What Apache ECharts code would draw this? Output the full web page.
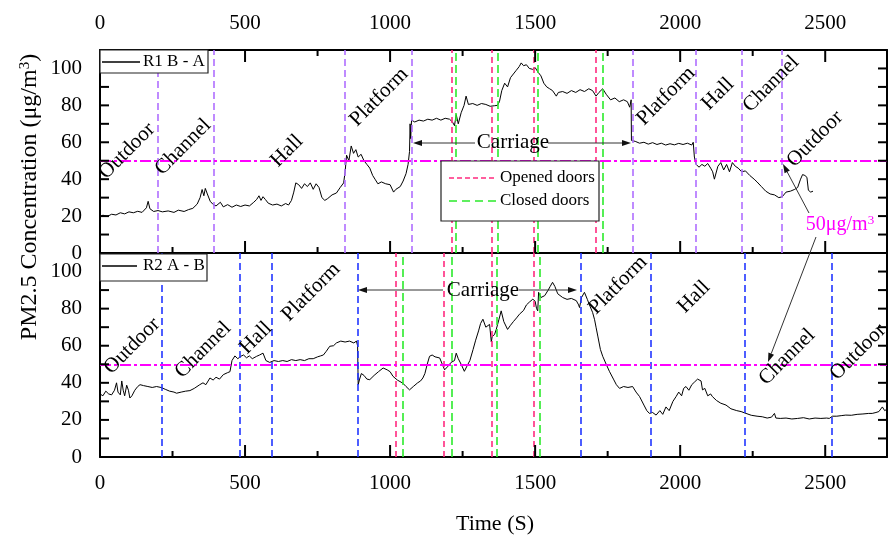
<!DOCTYPE html>
<html>
<head>
<meta charset="utf-8">
<script src="https://cdn.jsdelivr.net/npm/echarts@6/dist/echarts.min.js"></script>
<style>html,body{margin:0;padding:0;background:#fff}#c{width:890px;height:537px}</style>
</head>
<body>
<div id="c"></div>
<script>
// ---------- data ----------
const xMax = 2713;
const yMax = 110;
const limitValue = 50;
const xMajorTicks = [0, 500, 1000, 1500, 2000, 2500];
const xMinorTicks = [250, 750, 1250, 1750, 2250];
const yTicks = [0, 10, 20, 30, 40, 50, 60, 70, 80, 90, 100];

const r1Series = [
 [0,19.5],[10,20.5],[25,19.8],[40,21],[55,20.6],[70,21.8],[85,21.2],[100,22.3],[115,21.8],[130,22.6],[145,22],[160,24.5],[166,28],[172,24],[185,22.5],[200,23],
 [215,22.3],[235,22.8],[255,22],[270,23.2],[290,22.5],[305,23.5],[320,24.2],[335,26.5],[345,30],[352,34.4],[358,31],[363,35],[370,32],[380,28],[390,26.3],
 [400,25.5],[415,27.5],[425,25],[440,26.2],[455,24.8],[470,26],[485,25.2],[500,26],[515,25.5],[530,27.5],[540,29],[548,31],[555,28.5],[562,30.5],[570,29],[580,27],[595,26],[610,26.5],[625,25.5],[640,26.8],[650,26],[660,28.5],[668,33],[675,38],[685,37],[695,35],[705,37.5],[715,36],[725,38],[735,34.5],[745,37.5],[755,35.5],[765,30],[775,28.5],[785,29.5],[800,31.5],[815,32.5],[828,35.5],[840,38],[845,44],
 [850,53],[858,50],[866,58],[874,54],[882,56],[890,52],[900,53.5],[910,50],[920,48],[930,46],[940,42],[948,40],[958,37.5],[970,38.5],[985,37.5],[1000,37],[1012,33],[1020,34.5],[1035,36],[1045,39],[1055,43],[1062,48],[1067,55],[1069,70],[1071,62],[1074,72],
 [1085,71],[1100,72],[1115,71.5],[1130,72.5],[1145,72],[1160,73],[1175,72],[1190,73],[1205,72.5],[1215,71],[1222,69],[1228,75],[1235,70],[1245,76],[1255,80],[1262,85],[1270,80.5],[1285,81],[1300,80],[1315,81],[1330,80.5],[1345,79.5],[1360,79.8],[1370,80],[1377,82],[1385,88],[1395,92],[1405,90],[1415,95],[1425,97],[1435,99],[1445,101],[1452,103],[1460,101.5],[1470,102],[1480,100],[1492,99.5],[1500,100.5],[1510,98],[1520,96],[1530,92],[1540,90],[1550,89],[1560,88],[1573,85],[1580,87],[1595,87.5],[1610,86.5],[1625,88],[1640,87],[1655,88.5],[1670,87.5],[1685,89],[1698,88],[1710,85],[1720,87],[1733,89],[1745,86],[1760,83],[1775,84],[1790,82],[1805,83],[1818,82],[1826,79],[1831,83],[1832,61],
 [1845,60.5],[1860,59.5],[1875,60],[1890,59],[1905,59.8],[1920,58.8],[1935,59.5],[1950,58.5],[1965,59.2],[1980,58.6],[1995,59.4],[2010,58.8],[2025,59.5],[2040,58.5],[2045,60],[2049,52],
 [2055,48],[2065,46.5],[2075,48],[2085,47],[2095,48.5],[2105,46],[2112,44],[2118,40],[2124,41],[2130,47],[2140,49],[2150,45],[2160,48],[2170,44],[2180,49],[2190,47],[2200,46],[2212,44],
 [2225,44.5],[2240,42],[2255,40],[2265,38.5],[2280,36],[2295,33.5],[2310,32],[2325,31.5],[2340,30],[2352,30.5],
 [2365,33],[2380,33.5],[2395,34.5],[2405,35.5],[2415,40],[2422,42.5],[2430,42],[2437,41],[2442,34],[2450,33],[2458,33.5]
];

const r2Series = [
 [0,34],[10,33],[20,35.5],[30,34],[40,33.5],[50,36],[57,40],[62,35],[70,33.5],[75,41],[80,36],[85,33],[92,38.7],[98,36],[103,31.8],[110,33],[120,36],[130,38],[138,39],[150,38.5],[165,38],[180,37.5],[195,38],[210,37.5],[225,36.5],[240,35.5],[255,35],[264,34.4],[280,35],[295,35.5],[310,35.8],[325,37],[344,39],[355,40],[365,39],[379,42.6],[390,41.5],[400,43],[412,42],[425,44.4],[440,45.5],[448,46],
 [455,52],[465,54.5],[475,53],[485,54.3],[495,55],[505,53.5],[515,54.5],[525,53],[540,54.3],[550,55],[562,56],[572,52],[585,51],[600,52],[615,51.5],[630,52],[645,51.5],[660,52.5],[675,52],[690,52.5],[705,52],[720,53],[735,53],[750,54],[760,54.5],[770,55],[780,57],[792,59.7],[805,60],[815,61.5],[830,62.5],[845,62],[860,62.5],[875,61.5],[884,62.5],[888,60],
 [890,39],[895,42],[901,45],[910,44],[920,42],[930,41.7],[945,44],[960,46],[976,48],[990,47],[1000,46],[1010,43.5],[1025,41.5],[1044,39.8],[1055,38],[1067,36.2],[1080,38],[1095,40],[1105,41],[1113,42.6],[1120,45],[1128,50],[1136,54.3],[1145,55],[1155,54],[1171,53.4],[1180,50],[1188,47],[1200,49],[1210,51],[1216,50.6],[1222,52],[1228,56],[1235,53],[1245,50],[1256,46.2],[1265,49],[1275,52],[1286,57.9],[1295,63],[1305,68],[1312,72],[1320,74.3],[1330,70],[1343,71.5],[1349,62],[1352,65],[1360,66],[1366,68.8],[1375,74],[1383,78.8],[1392,73],[1405,68.8],[1415,71],[1425,73],[1436,75],[1446,77],[1460,79],[1470,82],[1480,83.5],[1492,85.1],[1500,84],[1505,80],[1509,78.8],[1512,88.8],[1520,86],[1533,87],[1545,90],[1552,92],[1560,94.2],[1568,92],[1578,88],[1595,86],[1610,85],[1625,85.5],[1642,84.3],[1650,82],[1653,80.6],
 [1660,86],[1670,88.8],[1680,85],[1690,81],[1698,78],[1705,74],[1710,70],[1716,65.2],[1725,58],[1733,54.3],[1745,50],[1756,46.2],[1770,42],[1780,39],[1791,37],[1805,38],[1820,37.5],[1836,38],[1848,35],[1860,32.6],[1875,28],[1885,25],[1894,23.5],
 [1905,24],[1917,22.6],[1930,25],[1940,23],[1951,27],[1962,25],[1975,30],[1986,32.6],[1995,35],[2005,33],[2012,37],[2020,38],[2030,36],[2040,39],[2050,40.5],[2060,42],[2066,42.6],[2072,41],[2077,36.2],[2085,37],[2095,33],[2105,34],[2111,32.6],[2125,30.5],[2140,29],[2158,28],[2175,26],[2195,25],[2210,24.5],
 [2227,23.5],[2245,22.5],[2265,22],[2283,21.7],[2300,21],[2315,21.5],[2325,23.5],[2330,21],[2345,20.8],[2365,21],[2385,20.5],[2405,20.8],[2425,21.2],[2445,20.5],[2465,21],[2485,20.8],[2505,21],[2514,20.8],
 [2525,22],[2540,22],[2555,22.3],[2571,22.6],[2590,22.5],[2610,23],[2630,23.2],[2650,23.5],[2662,23.5],[2675,24],[2685,24.5],[2697,27],[2705,25],[2710,25.5]
];

const r1StageLines = [199, 393, 844, 1073, 1836, 2052, 2212, 2350];
const r1OpenedDoors = [1211, 1349, 1494, 1710];
const r1ClosedDoors = [1228, 1372, 1509, 1733];
const r2StageLines = [212, 482, 591, 889, 1656, 1897, 2223, 2522];
const r2OpenedDoors = [1019, 1185, 1349, 1494];
const r2ClosedDoors = [1044, 1214, 1366, 1515];

// ---------- styles ----------
const FONT = "'Liberation Serif', 'Times New Roman', serif";
const C_PURPLE = '#B06EFF', C_RED = '#FF2A7F', C_GREEN = '#2BEA2B', C_BLUE = '#2236FF', C_MAG = '#FF00FF';

const chart = echarts.init(document.getElementById('c'), null, {renderer: 'canvas'});

function xAx(grid, pos, labels, line) {
  return {
    type: 'value', gridIndex: grid, position: pos, min: 0, max: xMax, interval: 500,
    axisLine: {show: line, onZero: false, lineStyle: {color: '#000', width: 2}},
    axisTick: {show: false},
    axisLabel: {show: labels, margin: 16, color: '#000', fontFamily: FONT, fontSize: 21,
      formatter: v => (v % 500 === 0 && v <= 2500) ? String(v) : ''},
    splitLine: {show: false}
  };
}
function yAx(grid, pos, labels) {
  return {
    type: 'value', gridIndex: grid, position: pos, min: 0, max: yMax, interval: 10,
    axisLine: {show: true, onZero: false, lineStyle: {color: '#000', width: 2}},
    axisTick: {show: false},
    axisLabel: {show: labels, margin: 18, color: '#000', fontFamily: FONT, fontSize: 21,
      formatter: v => (v % 20 === 0 && v <= 100) ? String(v) : ''},
    splitLine: {show: false}
  };
}

function vLines(vals, color, dash) {
  return vals.map(v => ({xAxis: v, lineStyle: {color: color, type: dash, width: 1.6}}));
}
function markLineFor(stages, stageColor, opened, closed) {
  return {
    silent: true, symbol: 'none', label: {show: false},
    data: [].concat(
      vLines(stages, stageColor, [7, 4]),
      vLines(opened, C_RED, [6, 4]),
      vLines(closed, C_GREEN, [8, 4]),
      [{yAxis: limitValue, lineStyle: {color: C_MAG, type: [11, 3, 3, 3], width: 2}}]
    )
  };
}

chart.setOption({
  animation: false,
  backgroundColor: '#fff',
  grid: [
    {left: 100, top: 50, width: 788, height: 203},
    {left: 100, top: 253, width: 788, height: 204}
  ],
  xAxis: [
    xAx(0, 'top', true, true),
    xAx(0, 'bottom', false, true),
    xAx(1, 'top', false, true),
    xAx(1, 'bottom', true, true)
  ],
  yAxis: [
    yAx(0, 'left', true), yAx(0, 'right', false),
    yAx(1, 'left', true), yAx(1, 'right', false)
  ],
  series: [
    {name: 'R1 B - A', type: 'line', xAxisIndex: 0, yAxisIndex: 0, data: r1Series, showSymbol: false,
     lineStyle: {color: '#000', width: 1},
     markLine: markLineFor(r1StageLines, C_PURPLE, r1OpenedDoors, r1ClosedDoors)},
    {name: 'R2 A - B', type: 'line', xAxisIndex: 3, yAxisIndex: 2, data: r2Series, showSymbol: false,
     lineStyle: {color: '#000', width: 1},
     markLine: markLineFor(r2StageLines, C_BLUE, r2OpenedDoors, r2ClosedDoors)}
  ]
});

// ---------- annotation helpers ----------
function rotText(txt, x, y, rotDeg, size, color, rich) {
  const st = {text: txt, fill: color || '#000', font: size + 'px ' + FONT, align: 'center', verticalAlign: 'middle'};
  if (rich) st.rich = rich;
  return {type: 'text', x: x, y: y, rotation: rotDeg * Math.PI / 180, z: 100, style: st};
}
function arrow(x1, y1, x2, y2) {
  const a = Math.atan2(y2 - y1, x2 - x1), L = 9, W = 3;
  const bx = x2 - L * Math.cos(a), by = y2 - L * Math.sin(a);
  const px = -Math.sin(a) * W, py = Math.cos(a) * W;
  return [
    {type: 'line', z: 100, shape: {x1: x1, y1: y1, x2: bx, y2: by}, style: {stroke: '#333', lineWidth: 1}},
    {type: 'polygon', z: 100, shape: {points: [[x2, y2], [bx + px, by + py], [bx - px, by - py]]}, style: {fill: '#111'}}
  ];
}
function legendBox(x, y, w, h) {
  return {type: 'rect', z: 99, shape: {x: x, y: y, width: w, height: h}, style: {fill: '#fff', stroke: '#222', lineWidth: 1.2}};
}
function sample(x1, x2, y, color, dash) {
  const st = {stroke: color, lineWidth: 1.3};
  if (dash) st.lineDash = dash;
  return {type: 'line', z: 100, shape: {x1: x1, y1: y, x2: x2, y2: y}, style: st};
}
function leftText(txt, x, y, size) {
  return {type: 'text', x: x, y: y, z: 100, style: {text: txt, fill: '#000', font: size + 'px ' + FONT, align: 'left', verticalAlign: 'middle'}};
}
function tick(x1, y1, x2, y2) {
  return {type: 'line', z: 50, silent: true, shape: {x1: x1, y1: y1, x2: x2, y2: y2}, style: {stroke: '#000', lineWidth: 2}};
}

// inward axis ticks, placed through the axes' own scales
const tickEls = [];
[0, 1].forEach(g => {
  const rect = chart.getModel().getComponent('grid', g).coordinateSystem.getRect();
  const top = rect.y, bot = rect.y + rect.height, lft = rect.x, rgt = rect.x + rect.width;
  const xi = g === 0 ? 0 : 3, yi = g === 0 ? 0 : 2;
  const edges = g === 0 ? [[top, 1], [bot, -1]] : [[bot, -1]];
  xMajorTicks.concat(xMinorTicks).forEach(v => {
    const px = chart.convertToPixel({xAxisIndex: xi}, v);
    const len = v % 500 === 0 ? 12 : 6;
    edges.forEach(([ey, dir]) => tickEls.push(tick(px, ey, px, ey + dir * len)));
  });
  yTicks.forEach(v => {
    const py = chart.convertToPixel({yAxisIndex: yi}, v);
    tickEls.push(tick(lft, py, lft + 9, py));
    tickEls.push(tick(rgt, py, rgt - 9, py));
  });
});

const graphics = [
  rotText('Outdoor', 127, 151, 45, 21), rotText('Channel', 183, 147, 45, 21), rotText('Hall', 287, 151, 45, 21),
  rotText('Platform', 379, 97, 45, 21), rotText('Platform', 666, 96, 45, 21), rotText('Hall', 718, 94, 45, 21),
  rotText('Channel', 771, 84, 45, 21), rotText('Outdoor', 815, 139, 45, 21),
  rotText('Carriage', 513, 142, 0, 21),
  rotText('Outdoor', 132, 346, 45, 21), rotText('Channel', 203, 350, 45, 21), rotText('Hall', 256, 338, 45, 21),
  rotText('Platform', 311, 292, 45, 21), rotText('Platform', 618, 285, 45, 21), rotText('Hall', 694, 297, 45, 21),
  rotText('Channel', 787, 357, 45, 21), rotText('Outdoor', 858, 352, 45, 21),
  rotText('Carriage', 483, 290, 0, 21),
  rotText('50μg/m{s|3}', 840, 225, 0, 20, C_MAG, {s: {fontSize: 13, fill: C_MAG, fontFamily: FONT, padding: [0, 0, 9, 0]}}),
  rotText('PM2.5 Concentration (μg/m{s|3})', 30, 197, 90, 24, '#000', {s: {fontSize: 15, fontFamily: FONT, padding: [0, 0, 10, 0]}}),
  rotText('Time (S)', 495, 524, 0, 22),
  legendBox(100, 50, 108, 23), sample(102, 140, 62, '#000', null), leftText('R1 B - A', 143, 62, 17),
  legendBox(100, 254, 107, 27), sample(102, 137, 266, '#000', null), leftText('R2 A - B', 143, 266, 17),
  legendBox(441, 161, 158, 60),
  sample(449, 497, 178, C_RED, [5, 3]), leftText('Opened doors', 500, 178, 17),
  sample(449, 497, 201, C_GREEN, [8, 5]), leftText('Closed doors', 500, 201, 17)
].concat(
  arrow(475, 143, 413, 143), arrow(548, 143, 631, 143),
  arrow(443, 290, 358, 290), arrow(519, 290, 577, 290),
  arrow(809, 213, 783, 164), arrow(816, 237, 768, 362),
  tickEls
);

chart.setOption({graphic: graphics});
</script>
</body>
</html>
